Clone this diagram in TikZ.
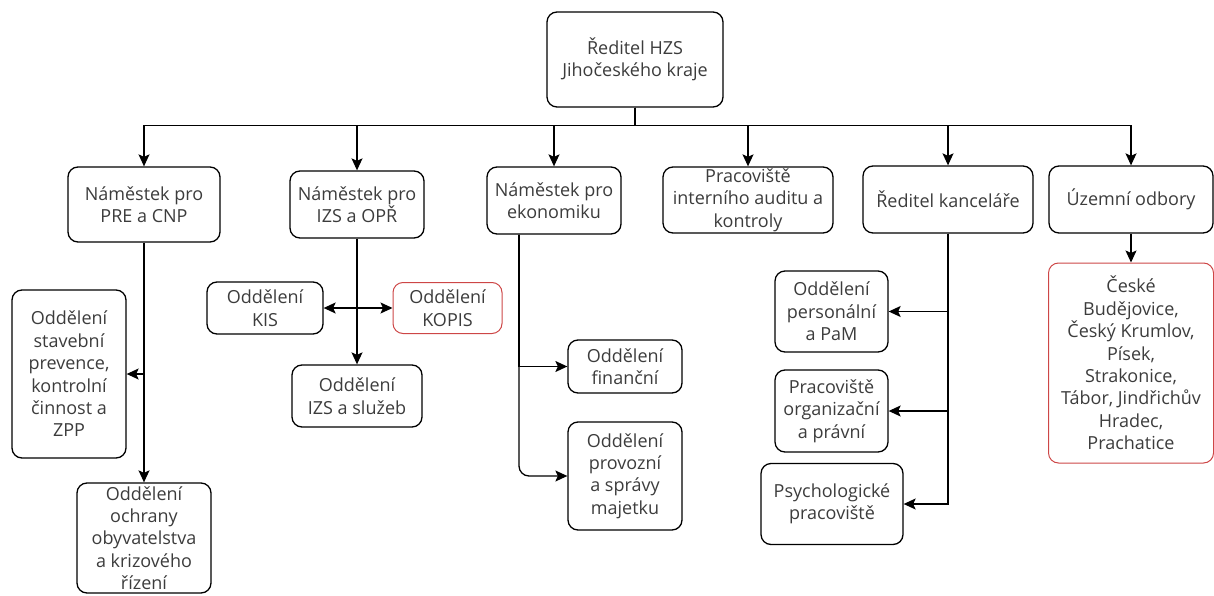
\documentclass[tikz,border=0pt]{standalone}
\usepackage{fontspec}
\setmainfont{Open Sans}
\usetikzlibrary{arrows.meta}
\definecolor{boxred}{RGB}{205,70,70}
\definecolor{txtgray}{RGB}{60,60,60}

\begin{document}
\begin{tikzpicture}[x=1pt,y=-1pt]
	\tikzset{>={Stealth[length=12pt,width=11pt,inset=2.5pt]}}
	\tikzset{box/.style={draw,rounded corners=10pt,line width=1.3pt,align=center,inner sep=0pt,
			text=txtgray,font=\fontsize{18}{22.4}\selectfont},
		redbox/.style={box,draw=boxred,line width=1pt},
		link/.style={line width=1.3pt}}
	\useasboundingbox (0,0) rectangle (1214,596);

	\node[box,minimum width=176,minimum height=95] (dir) at (635,59.5) {Ředitel HZS\\Jihočeského kraje};

	% second row
	\node[box,minimum width=152,minimum height=75] (pre) at (144,204.5) {Náměstek pro\\PRE a CNP};
	\node[box,minimum width=134,minimum height=67] (izs) at (357,204.5) {Náměstek pro\\IZS a OPŘ};
	\node[box,minimum width=134,minimum height=67] (eko) at (554,200.5) {Náměstek pro\\ekonomiku};
	\node[box,minimum width=170,minimum height=66] (audit) at (748,200) {Pracoviště\\interního auditu a\\kontroly};
	\node[box,minimum width=170,minimum height=67] (kanc) at (948,199.5) {Ředitel kanceláře};
	\node[box,minimum width=164,minimum height=67] (uzemni) at (1131,199.5) {Územní odbory};

	% departments
	\node[box,minimum width=114,minimum height=168] (stav) at (69,374) {Oddělení\\stavební\\prevence,\\kontrolní\\činnost a\\ZPP};
	\node[box,minimum width=134,minimum height=110] (ochr) at (144,538) {Oddělení\\ochrany\\obyvatelstva\\a krizového\\řízení};
	\node[box,minimum width=116,minimum height=52] (kis) at (265,308) {Oddělení\\KIS};
	\node[redbox,minimum width=109,minimum height=51] (kopis) at (447.5,308) {Oddělení\\KOPIS};
	\node[box,minimum width=130,minimum height=62] (sluzeb) at (357,396) {Oddělení\\IZS a služeb};
	\node[box,minimum width=114,minimum height=53] (fin) at (625,366.5) {Oddělení\\finanční};
	\node[box,minimum width=114,minimum height=108] (prov) at (625,476) {Oddělení\\provozní\\a správy\\majetku};
	\node[box,minimum width=113,minimum height=81] (pers) at (831.5,311.5) {Oddělení\\personální\\a PaM};
	\node[box,minimum width=113,minimum height=82] (org) at (831.5,411) {Pracoviště\\organizační\\a právní};
	\node[box,minimum width=142,minimum height=81] (psych) at (832,504) {Psychologické\\pracoviště};
	\node[redbox,minimum width=165,minimum height=200] (mesta) at (1131,363) {České\\Budějovice,\\Český Krumlov,\\Písek,\\Strakonice,\\Tábor, Jindřichův\\Hradec,\\Prachatice};

	% from the director
	\foreach \n in {pre,izs,eko,audit,kanc,uzemni}
		\draw[link,->] (dir.south) -- ++(0,18) -| (\n.north);

	\draw[link,->] (pre.south) -- (ochr.north);
	\draw[link,->] (pre.south |- stav.east) -- (stav.east);

	\draw[link,->] (izs.south) -- (sluzeb.north);
	\draw[link,<->] (kis.east) -- (kopis.west);

	\draw[link,->] ([xshift=-35pt]eko.south) |- (fin.west);
	\draw[link,->,rounded corners=10pt] ([xshift=-35pt]eko.south) |- (prov.west);

	\draw[link,->] (kanc.south) |- (pers.east);
	\draw[link,->] (kanc.south) |- (org.east);
	\draw[link,->] (kanc.south) |- (psych.east);

	\draw[link,->] (uzemni.south) -- (mesta.north);
\end{tikzpicture}
\end{document}
